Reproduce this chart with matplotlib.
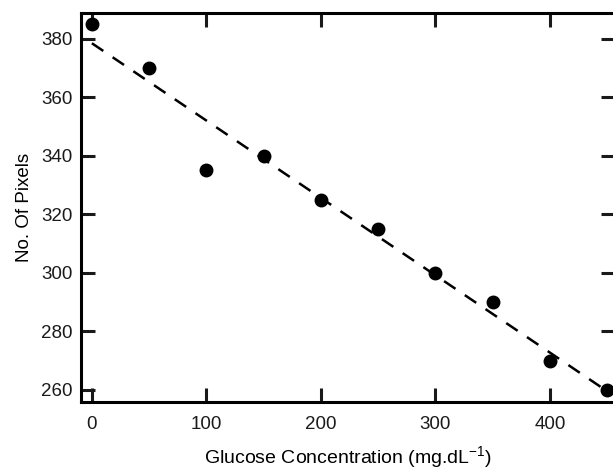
import matplotlib
matplotlib.use('Agg')
import matplotlib.pyplot as plt
import numpy as np

plt.rcParams['font.family'] = ['Liberation Sans', 'DejaVu Sans']

# glucose concentration (mg/dL) vs number of pixels
glucose = [0, 50, 100, 150, 200, 250, 300, 350, 400, 450]
pixels = [385, 370, 335, 340, 325, 315, 300, 290, 270, 260]
x_ticks = [0, 100, 200, 300, 400]
y_ticks = [260, 280, 300, 320, 340, 360, 380]

fig = plt.figure(figsize=(6.13, 4.72), dpi=100)
ax = fig.add_axes([0.132, 0.148, 0.871, 0.8245])

# 線形回帰
slope, intercept = np.polyfit(glucose, pixels, 1)
xfit = np.array([glucose[0], glucose[-1]])
ax.plot(xfit, slope * xfit + intercept, color='black', lw=1.8,
        linestyle=(0, (5.5, 4.5)))

ax.plot(glucose, pixels, 'o', color='black', markersize=9)

ax.set_xlim(-9.6, 456.8)
ax.set_ylim(255.8, 388.8)
ax.set_xticks(x_ticks)
ax.set_yticks(y_ticks)

for s in ax.spines.values():
    s.set_linewidth(2.2)
ax.tick_params(direction='in', length=10, width=2.2, top=True, right=True,
               labelsize=13.5, colors='#1a1a1a', pad=10)
ax.tick_params(axis='y', pad=6)

ax.set_xlabel('Glucose Concentration (mg.dL$^{\\mathregular{-1}}$)', fontsize=14, labelpad=8)
ax.set_ylabel('No. Of Pixels', fontsize=13.5, labelpad=6)

fig.savefig('out.png', dpi=100)
